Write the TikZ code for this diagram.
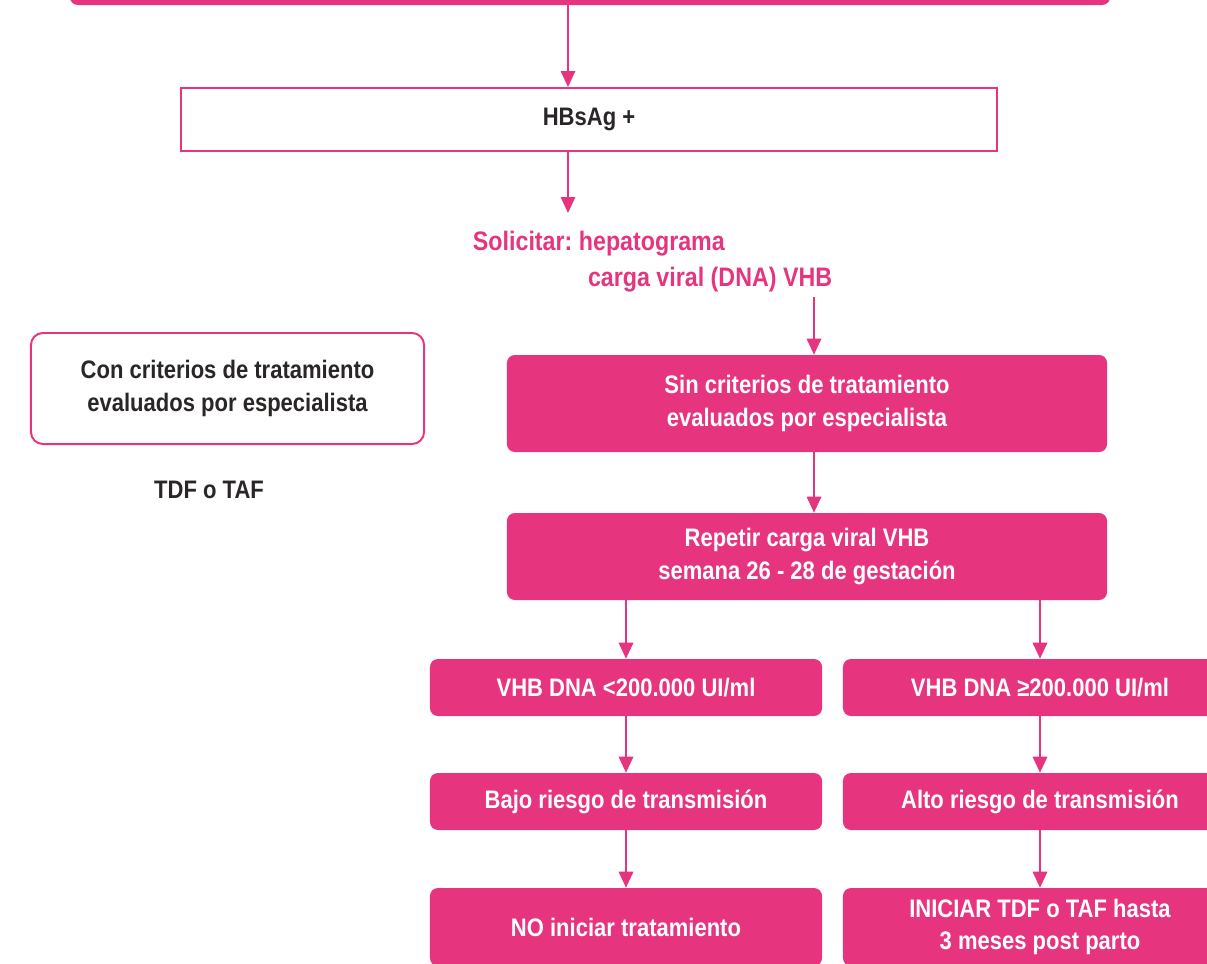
\documentclass[tikz,border=0pt]{standalone}
\usepackage{fontspec}
\setmainfont{Liberation Sans}[FakeStretch=0.87]
\usetikzlibrary{arrows.meta}
\definecolor{rosa}{HTML}{E6347F}
\definecolor{oscuro}{HTML}{2B2626}
\frenchspacing

\begin{document}
\begin{tikzpicture}[x=0.025cm,y=-0.025cm,
        font=\bfseries\fontsize{18}{23}\selectfont,
        relleno/.style={fill=rosa,text=white,rounded corners=0.2cm,align=center,inner sep=0pt},
        borde/.style={draw=rosa,line width=1.4pt,fill=white,text=oscuro,align=center,inner sep=0pt},
        flecha/.style={draw=rosa,line width=1.4pt,-{Triangle[width=0.36cm,length=0.4cm]}}]
        \useasboundingbox (0,0) rectangle (1207,963);
        \clip (0,0) rectangle (1207,963);

        \node[relleno,minimum width=26cm,minimum height=1.25cm] (top) at (590,-20) {};
        \node[borde,minimum width=20.4cm,minimum height=1.575cm] (hbs) at (589,119.5) {HBsAg +};
        \node[text=rosa,align=left,anchor=west,font=\bfseries\fontsize{19}{25.5}\selectfont] (sol) at (468,262)
            {Solicitar: hepatograma\\\hspace*{2.875cm}carga viral (DNA) VHB};
        \coordinate (eje1) at (568,0);
        \coordinate (eje2) at (814,0);
        \draw[flecha] (top.south -| eje1) -- (hbs.north -| eje1);
        \draw[flecha] (hbs.south -| eje1) -- (568,213);

        \node[borde,rounded corners=0.3cm,minimum width=9.825cm,minimum height=2.775cm] (con) at (227.5,388.5)
            {Con criterios de tratamiento\\evaluados por especialista};
        \node[text=oscuro] (tdf) at (209,490) {TDF o TAF};

        \node[relleno,minimum width=15cm,minimum height=2.425cm] (sin) at (807,403.5)
            {Sin criterios de tratamiento\\evaluados por especialista};
        \node[relleno,minimum width=15cm,minimum height=2.175cm] (rep) at (807,556.5)
            {Repetir carga viral VHB\\semana 26 - 28 de gestación};
        \draw[flecha] (sol.south -| eje2) -- (sin.north -| eje2);
        \draw[flecha] (sin.south -| eje2) -- (rep.north -| eje2);

        \node[relleno,minimum width=9.8cm,minimum height=1.425cm] (bajoc) at (626,687.5) {VHB DNA <200.000 UI/ml};
        \node[relleno,minimum width=9.85cm,minimum height=1.425cm] (altoc) at (1040,687.5) {VHB DNA ≥200.000 UI/ml};
        \draw[flecha] (rep.south -| bajoc) -- (bajoc);
        \draw[flecha] (rep.south -| altoc) -- (altoc);

        \node[relleno,minimum width=9.8cm,minimum height=1.425cm] (bajo) at (626,801.5) {Bajo riesgo de transmisión};
        \node[relleno,minimum width=9.85cm,minimum height=1.425cm] (alto) at (1040,801.5) {Alto riesgo de transmisión};
        \draw[flecha] (bajoc) -- (bajo);
        \draw[flecha] (altoc) -- (alto);

        \node[relleno,minimum width=9.8cm,minimum height=1.95cm] (noini) at (626,927) {NO iniciar tratamiento};
        \node[relleno,minimum width=9.85cm,minimum height=1.95cm] (ini) at (1040,927)
            {INICIAR TDF o TAF hasta\\3 meses post parto};
        \draw[flecha] (bajo) -- (noini);
        \draw[flecha] (alto) -- (ini);
    \end{tikzpicture}
\end{document}
